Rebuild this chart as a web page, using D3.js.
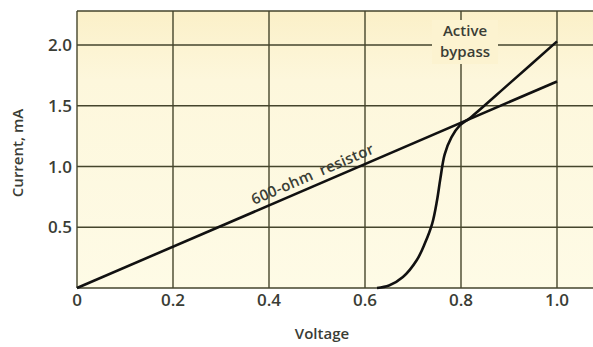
<!DOCTYPE html>
<html>
<head>
<meta charset="utf-8">
<script src="https://cdn.jsdelivr.net/npm/d3@7"></script>
<style>
	body { margin: 0; background: #ffffff; }
	svg { display: block; font-family: "Open Sans", "Liberation Sans", Arial, sans-serif; }
	text { white-space: pre; }
</style>
</head>
<body>
<svg id="chart" width="593" height="347"></svg>
<script>
// values
const xTicks = [0, 0.2, 0.4, 0.6, 0.8, 1.0];
const xTickLabels = ['0', '0.2', '0.4', '0.6', '0.8', '1.0'];
const yTicks = [0.5, 1.0, 1.5, 2.0];
const yTickLabels = ['0.5', '1.0', '1.5', '2.0'];

const resistorVolts = [0, 1.0];
const resistorCurrent = [0, 1.7];

const bypassVolts = [0.625, 0.65, 0.679, 0.708, 0.725, 0.74, 0.75, 0.757, 0.766, 0.78, 0.798, 0.819, 0.9, 1.0];
const bypassCurrent = [0, 0.02, 0.09, 0.23, 0.37, 0.53, 0.72, 0.9, 1.1, 1.24, 1.34, 1.4, 1.68, 2.03];

const svg = d3.select('#chart');

const x = d3.scaleLinear().domain([0, 1]).range([77, 557]);
const y = d3.scaleLinear().domain([0, 2]).range([288, 45]);

const xMax = 1.075; // paper runs past 1.0 to the right edge
const yMax = 2.28;

const defs = svg.append('defs');
const grad = defs.append('linearGradient')
	.attr('id', 'paper')
	.attr('x1', 0).attr('y1', 0).attr('x2', 0).attr('y2', 1);
grad.append('stop').attr('offset', 0).attr('stop-color', '#fbf0c8');
grad.append('stop').attr('offset', 0.25).attr('stop-color', '#fdf7dc');
grad.append('stop').attr('offset', 1).attr('stop-color', '#fefbe6');

svg.append('rect')
	.attr('x', x(0))
	.attr('y', y(yMax))
	.attr('width', x(xMax) - x(0))
	.attr('height', y(0) - y(yMax))
	.attr('fill', 'url(#paper)');

const gridColor = '#45452c';
const inkColor = '#3a3d35';

// grid
svg.append('g')
	.selectAll('line')
	.data(xTicks)
	.join('line')
	.attr('x1', (d) => x(d))
	.attr('x2', (d) => x(d))
	.attr('y1', y(0))
	.attr('y2', y(yMax))
	.attr('stroke', gridColor)
	.attr('stroke-width', 1.4);

svg.append('g')
	.selectAll('line')
	.data([0].concat(yTicks, [yMax]))
	.join('line')
	.attr('x1', x(0))
	.attr('x2', x(xMax))
	.attr('y1', (d) => y(d))
	.attr('y2', (d) => y(d))
	.attr('stroke', gridColor)
	.attr('stroke-width', 1.4);

// tick labels
svg.append('g')
	.selectAll('text')
	.data(xTicks)
	.join('text')
	.attr('x', (d) => x(d))
	.attr('y', 306)
	.attr('text-anchor', 'middle')
	.attr('font-size', 17)
	.attr('font-weight', 600)
	.attr('fill', inkColor)
	.text((d, i) => xTickLabels[i]);

svg.append('g')
	.selectAll('text')
	.data(yTicks)
	.join('text')
	.attr('x', 72)
	.attr('y', (d) => y(d) + 6)
	.attr('text-anchor', 'end')
	.attr('font-size', 17)
	.attr('font-weight', 600)
	.attr('fill', inkColor)
	.text((d, i) => yTickLabels[i]);

// axis titles
svg.append('text')
	.attr('x', 322)
	.attr('y', 339)
	.attr('text-anchor', 'middle')
	.attr('font-size', 15)
	.attr('font-weight', 600)
	.attr('fill', inkColor)
	.text('Voltage');

svg.append('text')
	.attr('transform', 'translate(23,153) rotate(-90)')
	.attr('text-anchor', 'middle')
	.attr('font-size', 15)
	.attr('font-weight', 600)
	.attr('fill', inkColor)
	.text('Current, mA');

// curves
const line = d3.line()
	.x((d) => x(d[0]))
	.y((d) => y(d[1]));

svg.append('path')
	.datum(d3.zip(resistorVolts, resistorCurrent))
	.attr('d', line)
	.attr('fill', 'none')
	.attr('stroke', '#111')
	.attr('stroke-width', 2.6);

svg.append('path')
	.datum(d3.zip(bypassVolts, bypassCurrent))
	.attr('d', line.curve(d3.curveCatmullRom.alpha(0.5)))
	.attr('fill', 'none')
	.attr('stroke', '#111')
	.attr('stroke-width', 2.6);

// labels
const angle = Math.atan2(y(0) - y(1.7), x(1) - x(0)) * 180 / Math.PI;
svg.append('text')
	.attr('transform', `translate(${x(0.495)},${y(0.84) - 7}) rotate(${-angle})`)
	.attr('text-anchor', 'middle')
	.attr('font-size', 15)
	.attr('font-weight', 600)
	.attr('letter-spacing', 0.3)
	.attr('fill', inkColor)
	.text('600-ohm  resistor');

svg.append('rect')
	.attr('x', 432)
	.attr('y', 20)
	.attr('width', 66)
	.attr('height', 44)
	.attr('fill', '#fcf3d0');

svg.append('text')
	.attr('x', 465)
	.attr('y', 36)
	.attr('text-anchor', 'middle')
	.attr('font-size', 15)
	.attr('font-weight', 600)
	.attr('fill', inkColor)
	.text('Active');

svg.append('text')
	.attr('x', 465)
	.attr('y', 57)
	.attr('text-anchor', 'middle')
	.attr('font-size', 15)
	.attr('font-weight', 600)
	.attr('fill', inkColor)
	.text('bypass');
</script>
</body>
</html>
